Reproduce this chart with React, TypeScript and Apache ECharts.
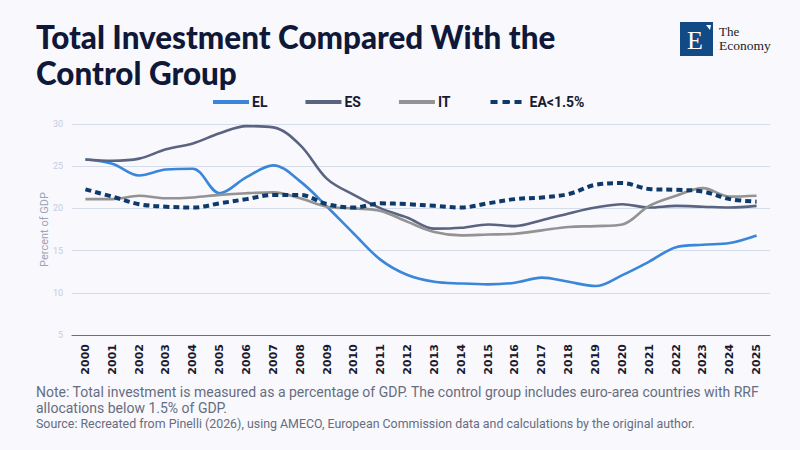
import React, { useEffect, useRef } from "react";
import * as echarts from "echarts";

const years = ["2000","2001","2002","2003","2004","2005","2006","2007","2008","2009","2010","2011","2012","2013","2014","2015","2016","2017","2018","2019","2020","2021","2022","2023","2024","2025"];
const elValues = [25.8,25.3,23.9,24.6,24.7,21.8,23.7,25.1,23.2,20.2,17.0,13.9,12.1,11.3,11.1,11.0,11.2,11.8,11.3,10.8,12.1,13.7,15.4,15.7,15.9,16.8];
const esValues = [25.8,25.65,25.9,27.0,27.7,28.9,29.75,29.6,27.5,23.5,21.6,20.0,18.9,17.6,17.7,18.1,17.9,18.6,19.4,20.1,20.5,20.1,20.3,20.2,20.1,20.3];
const itValues = [21.1,21.1,21.5,21.2,21.3,21.6,21.8,21.9,21.2,20.2,20.0,19.7,18.4,17.2,16.8,16.9,17.0,17.4,17.8,17.9,18.1,20.3,21.5,22.4,21.4,21.5];
const eaValues = [22.25,21.4,20.5,20.2,20.1,20.6,21.1,21.6,21.6,20.5,20.1,20.6,20.5,20.3,20.1,20.6,21.1,21.3,21.7,22.8,23.0,22.3,22.2,22.0,21.1,20.8];
const yTicks = { min: 5, max: 30, interval: 5 };

const titleLines = ["Total Investment Compared With the", "Control Group"];
const noteLines = [
  "Note: Total investment is measured as a percentage of GDP. The control group includes euro-area countries with RRF",
  "allocations below 1.5% of GDP.",
];
const sourceLine = "Source: Recreated from Pinelli (2026), using AMECO, European Commission data and calculations by the original author.";

export default function App() {
  const ref = useRef<HTMLDivElement>(null);
  useEffect(() => {
    document.body.style.margin = "0";
    const chart = echarts.init(ref.current!, null, { renderer: "svg" });
    const lineSeries = (name: string, data: number[], color: string, width: number, dashed = false) => ({
      name,
      type: "line",
      data,
      smooth: 0.35,
      symbol: "none",
      lineStyle: { color, width, type: dashed ? [6, 4] : "solid" },
      itemStyle: { color },
    });
    chart.setOption({
      animation: false,
      backgroundColor: "#f8f8fd",
      grid: { left: 72, right: 30, top: 124, bottom: 115 },
      legend: {
        top: 90,
        left: 208,
        itemWidth: 36,
        itemHeight: 4,
        itemGap: 38,
        textStyle: { fontFamily: "Roboto", fontWeight: "bold", fontSize: 14, color: "#1a1a2e", padding: [0, 0, 0, -2] },
        data: [
          { name: "EL", icon: "rect" },
          { name: "ES", icon: "rect" },
          { name: "IT", icon: "rect" },
          { name: "EA<1.5%", lineStyle: { width: 4, type: [7, 5], color: "#0d3a6b" } },
        ],
      },
      xAxis: {
        type: "category",
        data: years,
        boundaryGap: true,
        axisLine: { lineStyle: { color: "#6b7080", width: 1.2 } },
        axisTick: { show: false },
        axisLabel: {
          rotate: 90,
          interval: 0,
          fontFamily: "DejaVu Sans",
          fontWeight: "bold",
          fontSize: 11,
          color: "#1a1a2e",
          margin: 9,
        },
      },
      yAxis: {
        type: "value",
        min: yTicks.min,
        max: yTicks.max,
        interval: yTicks.interval,
        name: "Percent of GDP",
        nameLocation: "middle",
        nameGap: 22,
        nameMoveOverlap: false,
        nameTextStyle: { color: "#9aa3b8", fontSize: 11, fontFamily: "Roboto" },
        axisLine: { show: false },
        axisTick: { show: false },
        axisLabel: { color: "#c5cde0", fontSize: 9, fontFamily: "Roboto", margin: 9 },
        splitLine: { lineStyle: { color: "#d5dcea", width: 1 } },
      },
      series: [
        lineSeries("EL", elValues, "#3a86d8", 2.6),
        lineSeries("ES", esValues, "#5a6480", 2.6),
        lineSeries("IT", itValues, "#939393", 2.6),
        lineSeries("EA<1.5%", eaValues, "#0d3a6b", 4, true),
      ],
      graphic: [
        {
          type: "text",
          left: 36,
          top: 19,
          style: {
            text: titleLines.join("\n"),
            font: "900 31.4px Lato",
            lineHeight: 36,
            fill: "#0f1838",
          },
        },
        { type: "rect", shape: { x: 680, y: 22, width: 33, height: 34 }, style: { fill: "#124a86" } },
        {
          type: "text",
          style: { text: "E", x: 695, y: 40, font: "26px 'Liberation Serif'", fill: "#ffffff", align: "center", verticalAlign: "middle" },
        },
        { type: "polygon", shape: { points: [[706, 25], [711, 25], [710, 30]] }, style: { fill: "#ffffff" } },
        {
          type: "text",
          style: { text: "The", x: 719, y: 25, font: "13px 'Liberation Serif'", fill: "#222222" },
        },
        {
          type: "text",
          style: { text: "Economy", x: 719, y: 38, font: "13.5px 'Liberation Serif'", fill: "#222222" },
        },
        {
          type: "text",
          left: 36,
          top: 384,
          style: { text: noteLines.join("\n"), font: "14px Roboto", lineHeight: 16, fill: "#666d80" },
        },
        {
          type: "text",
          left: 36,
          top: 417,
          style: { text: sourceLine, font: "12.4px Roboto", fill: "#666d80" },
        },
      ],
    });
    return () => chart.dispose();
  }, []);
  return <div ref={ref} style={{ width: 800, height: 450 }} />;
}
